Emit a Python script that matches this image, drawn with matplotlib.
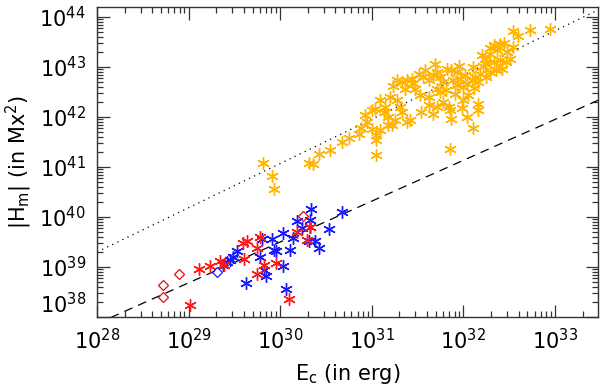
import numpy as np
import matplotlib
matplotlib.use("Agg")
import matplotlib.pyplot as plt
import matplotlib.transforms as mtransforms
from matplotlib.ticker import LogLocator, LogFormatterMathtext, NullFormatter

# log10 of E_c (erg) and |H_m| (Mx^2)
orange_logE = [32.54, 32.73, 32.95, 32.54, 32.33, 32.40, 32.44, 32.20, 32.24, 32.29,
               32.25, 32.33, 32.40, 32.47, 32.51, 32.42, 32.36, 32.29, 32.25, 32.18,
               32.13, 32.16, 32.09, 31.69, 31.27, 31.33, 31.38, 31.44, 31.51, 31.56,
               31.62, 31.67, 31.71, 31.74, 31.82, 31.87, 31.93, 31.78, 31.89, 31.96,
               32.02, 32.04, 31.47, 31.36, 31.71, 31.93, 32.00, 31.91, 31.09, 31.14,
               31.20, 31.27, 31.31, 31.03, 31.00, 30.93, 31.18, 31.62, 31.33, 31.18,
               31.22, 31.00, 31.09, 31.05, 30.86, 31.05, 31.05, 30.67, 30.54, 30.42,
               30.36, 30.31, 31.42, 31.38, 31.54, 31.67, 31.71, 31.78, 31.84, 31.85,
               31.87, 32.00, 32.04, 32.10, 32.16, 32.16, 31.85, 29.81, 29.91, 29.93,
               32.29, 32.37, 32.21, 32.48, 31.58, 31.45, 31.23, 31.53, 31.81, 32.05,
               31.95, 32.10, 31.13, 31.25, 30.95, 30.88, 30.75, 31.74, 32.60, 32.12,
               31.62, 31.98]
orange_logH = [43.72, 43.75, 43.76, 43.41, 43.44, 43.47, 43.49, 43.24, 43.17, 43.27,
               43.07, 43.11, 43.14, 43.11, 43.17, 42.97, 42.94, 42.91, 42.81, 42.87,
               42.81, 42.71, 42.74, 43.07, 42.74, 42.71, 42.74, 42.77, 42.87, 42.81,
               42.74, 42.84, 42.91, 42.81, 42.97, 42.94, 42.91, 42.71, 42.74, 42.77,
               42.84, 42.67, 42.57, 42.57, 42.57, 42.64, 42.61, 42.47, 42.34, 42.21,
               42.41, 42.34, 42.21, 42.17, 42.14, 42.04, 42.01, 42.41, 42.11, 41.84,
               41.84, 41.77, 41.74, 41.64, 41.67, 41.54, 41.24, 41.51, 41.35, 41.26,
               41.07, 41.09, 41.94, 41.91, 42.11, 42.07, 42.21, 42.31, 42.21, 42.14,
               41.97, 42.34, 42.01, 41.79, 42.27, 42.14, 41.37, 41.09, 40.82, 40.57,
               43.38, 43.34, 43.02, 43.30, 42.94, 42.68, 42.62, 42.44, 42.54, 42.44,
               43.02, 43.00, 42.10, 41.94, 41.90, 41.78, 41.58, 42.50, 43.62, 42.58,
               42.24, 42.18]

blue_logE = [30.34, 30.68, 30.18, 30.33, 30.24, 30.32, 30.53, 30.03, 29.91, 29.80,
             30.14, 30.31, 30.38, 30.42, 29.93, 29.95, 30.11, 29.53, 29.49, 29.45,
             29.42, 29.38, 29.78, 29.82, 29.85, 30.03, 29.63, 30.06]
blue_logH = [40.15, 40.09, 39.91, 39.93, 39.77, 39.79, 39.75, 39.67, 39.56, 39.55,
             39.58, 39.51, 39.51, 39.37, 39.33, 39.31, 39.34, 39.32, 39.20, 39.14,
             39.09, 39.03, 39.19, 38.94, 38.81, 39.01, 38.67, 38.55]

red_logE = [29.02, 29.11, 29.23, 29.34, 29.39, 29.59, 29.64, 29.61, 29.75, 29.78,
            29.75, 29.82, 29.95, 30.10, 30.18, 30.29, 30.32]
red_logH = [38.23, 38.96, 39.01, 39.11, 39.03, 39.47, 39.51, 39.16, 39.37, 39.59,
            38.86, 39.04, 39.08, 38.36, 39.69, 39.53, 39.80]

red_dia_logE = [28.72, 28.72, 28.89, 30.25]
red_dia_logH = [38.39, 38.63, 38.86, 40.01]
blue_dia_logE = [29.31]
blue_dia_logH = [38.89]

# power-law lines: log10 H = offset + slope * log10 E
fit_slopes = [0.885, 0.817]
fit_offsets = [14.52, 14.99]
fit_styles = [(0, (1, 3.5)), (0, (7, 5))]

xlim = (1e28, 10 ** 33.47)
ylim = (1e38, 10 ** 44.2)

fig = plt.figure(figsize=(6, 3.86), dpi=100)
ax = fig.add_axes([0.1617, 0.1788, 0.835, 0.803])
ax.set_xscale("log")
ax.set_yscale("log")

lx = np.linspace(np.log10(xlim[0]), np.log10(xlim[1]), 200)
for s, o, st in zip(fit_slopes, fit_offsets, fit_styles):
    ax.plot(10 ** lx, 10 ** (o + s * lx), color="black", lw=0.9, ls=st)

star = (6, 2, 0)
ax.plot(10 ** np.array(orange_logE), 10 ** np.array(orange_logH), ls="none",
        marker=star, ms=9, mew=1.0, color="#FFB400")
ax.plot(10 ** np.array(blue_logE), 10 ** np.array(blue_logH), ls="none",
        marker=star, ms=9, mew=1.0, color="#1818FF")
ax.plot(10 ** np.array(red_logE), 10 ** np.array(red_logH), ls="none",
        marker=star, ms=9, mew=1.0, color="#FF1818")
ax.plot(10 ** np.array(red_dia_logE), 10 ** np.array(red_dia_logH), ls="none",
        marker="D", ms=5, mew=0.9, mfc="none", mec="#E01010")
ax.plot(10 ** np.array(blue_dia_logE), 10 ** np.array(blue_dia_logH), ls="none",
        marker="D", ms=5, mew=0.9, mfc="none", mec="#1818FF")

ax.set_xlim(*xlim)
ax.set_ylim(*ylim)

ax.xaxis.set_major_locator(LogLocator(base=10, numticks=20))
ax.yaxis.set_major_locator(LogLocator(base=10, numticks=20))
ax.xaxis.set_minor_locator(LogLocator(base=10, subs=np.arange(2, 10), numticks=50))
ax.yaxis.set_minor_locator(LogLocator(base=10, subs=np.arange(2, 10), numticks=50))
ax.xaxis.set_major_formatter(LogFormatterMathtext())
ax.yaxis.set_major_formatter(LogFormatterMathtext())
ax.xaxis.set_minor_formatter(NullFormatter())
ax.yaxis.set_minor_formatter(NullFormatter())

ax.tick_params(which="both", direction="in", top=True, right=True, width=0.9,
               colors="#333333", labelcolor="black")
ax.tick_params(which="major", length=9, labelsize=15, pad=8)
ax.tick_params(which="minor", length=4.5)
for sp in ax.spines.values():
    sp.set_linewidth(1.0)
    sp.set_color("#333333")

ax.set_xlabel(r"E$_\mathregular{c}$ (in erg)", fontsize=15, labelpad=6)
ax.set_ylabel(r"|H$_\mathregular{m}$| (in Mx$^\mathregular{2}$)", fontsize=15, labelpad=4)

# lift the lowest y label off the x axis, as in the original
fig.canvas.draw()
shift = mtransforms.ScaledTranslation(0, 10 / 72, fig.dpi_scale_trans)
for tick in ax.yaxis.get_major_ticks():
    if np.isclose(tick.get_loc(), ylim[0]):
        tick.label1.set_transform(tick.label1.get_transform() + shift)

fig.savefig("out.png", dpi=100)
